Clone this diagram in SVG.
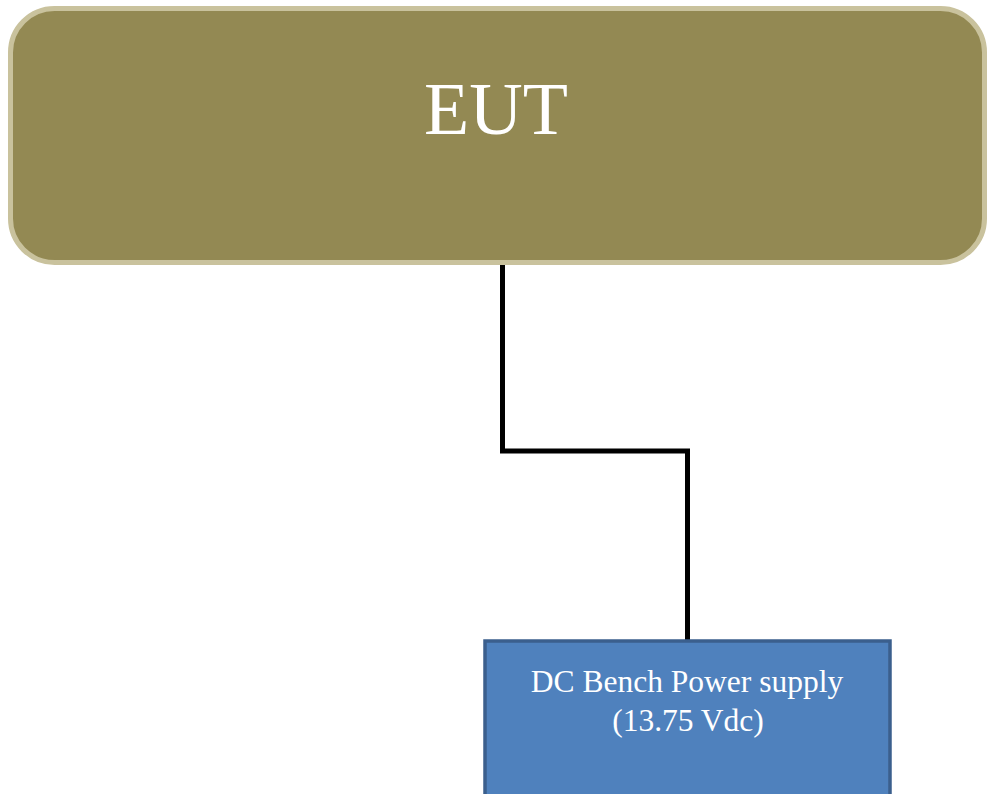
<svg xmlns="http://www.w3.org/2000/svg" width="987" height="794" viewBox="0 0 987 794">
<style>
.t{font-family:"Liberation Serif","Times New Roman",serif;fill:#ffffff;text-anchor:middle}
.c{fill:none;stroke:#000000;stroke-width:5}
</style>
<rect width="987" height="794" fill="#ffffff"/>
<g id="connectors">
<polyline class="c" points="502.5,263 502.5,451 687.5,451 687.5,641"/>
</g>
<g id="eut">
<rect x="10.5" y="8.5" width="974" height="254" rx="44" ry="44" fill="#938953" stroke="#c9c29d" stroke-width="5"/>
<text class="t" x="496" y="134" font-size="74">EUT</text>
</g>
<g id="psu">
<rect x="485" y="641" width="405" height="170" fill="#4f81bd" stroke="#3b5f8d" stroke-width="3.5"/>
<text class="t" x="687" y="692" font-size="31.5">DC Bench Power supply</text>
<text class="t" x="688" y="731" font-size="31.5">(13.75 Vdc)</text>
</g>
</svg>
